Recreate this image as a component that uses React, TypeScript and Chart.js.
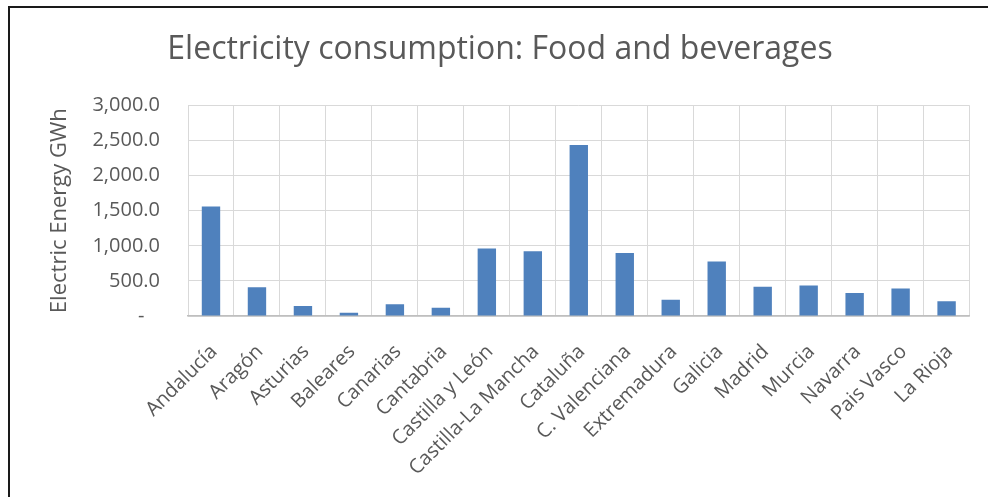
import React, { useEffect, useRef } from "react";
import { Chart, registerables } from "chart.js";

Chart.register(...registerables);

// Regions (categories) and consumption in GWh
const regions: string[] = [
  "Andalucía",
  "Aragón",
  "Asturias",
  "Baleares",
  "Canarias",
  "Cantabria",
  "Castilla y León",
  "Castilla-La Mancha",
  "Cataluña",
  "C. Valenciana",
  "Extremadura",
  "Galicia",
  "Madrid",
  "Murcia",
  "Navarra",
  "Pais Vasco",
  "La Rioja",
];

const consumptionGWh: number[] = [
  1560, 408, 142, 45, 166, 118, 963, 924, 2436, 896, 232, 777, 417, 436, 327, 393, 209,
];

const yTicks: number[] = [0, 500, 1000, 1500, 2000, 2500, 3000];

const chartTitle = "Electricity consumption: Food and beverages";
const yAxisTitle = "Electric Energy GWh";

const FONT = "'Open Sans', 'Noto Sans', sans-serif";
const TEXT = "#595959";
const GRID = "#d9d9d9";
const BAR = "#4f81bd";

const W = 988;
const H = 497;
const PAD_LEFT = 27;

function formatTick(v: number): string {
  if (v === 0) return "-   ";
  return v.toLocaleString("en-US", { minimumFractionDigits: 1, maximumFractionDigits: 1 });
}

export default function App() {
  const canvasRef = useRef<HTMLCanvasElement | null>(null);

  useEffect(() => {
    const canvas = canvasRef.current;
    if (!canvas) return;
    const chart = new Chart(canvas, {
      type: "bar",
      data: {
        labels: regions,
        datasets: [
          {
            data: consumptionGWh,
            backgroundColor: BAR,
            borderWidth: 0,
            barPercentage: 0.4,
            categoryPercentage: 1,
          },
        ],
      },
      options: {
        animation: false,
        responsive: false,
        maintainAspectRatio: false,
        layout: { padding: { left: PAD_LEFT, right: 15, top: 0, bottom: 0 } },
        plugins: {
          legend: { display: false },
          tooltip: { enabled: false },
          title: {
            display: true,
            text: chartTitle,
            color: TEXT,
            font: { family: FONT, size: 32, weight: "normal", lineHeight: 1.2 },
            padding: { top: 31, bottom: 36 },
          },
        },
        scales: {
          x: {
            grid: { color: GRID, lineWidth: 1, drawTicks: false, offset: true },
            border: { color: "#bfbfbf", width: 1.5 },
            ticks: {
              color: TEXT,
              font: { family: FONT, size: 20 },
              minRotation: 45,
              maxRotation: 45,
              autoSkip: false,
              padding: 24,
              labelOffset: 3,
            },
            afterFit: (scale: any) => {
              scale.height = H - 316;
            },
          },
          y: {
            min: 0,
            max: 3000,
            afterBuildTicks: (scale: any) => {
              scale.ticks = yTicks.map((v) => ({ value: v }));
            },
            grid: { color: GRID, lineWidth: 1, drawTicks: false },
            border: { display: false },
            ticks: {
              color: TEXT,
              font: { family: FONT, size: 20 },
              padding: 28,
              callback: (v: any) => formatTick(Number(v)),
            },
            title: {
              display: true,
              text: yAxisTitle,
              color: TEXT,
              font: { family: FONT, size: 22, lineHeight: 1.2 },
              padding: { top: 47 - PAD_LEFT, bottom: 0 },
            },
            afterFit: (scale: any) => {
              scale.width = 188 - PAD_LEFT;
            },
          },
        },
      },
    });
    return () => chart.destroy();
  }, []);

  return (
    <div
      style={{
        position: "absolute",
        left: 0,
        top: 0,
        width: W,
        height: H,
        overflow: "hidden",
        background: "#fff",
      }}
    >
      <canvas ref={canvasRef} width={W} height={H} style={{ position: "absolute", left: 0, top: 0 }} />
      <div
        style={{
          position: "absolute",
          left: 8,
          top: 6,
          width: 2000,
          height: 2000,
          borderLeft: "2px solid #1a1a1a",
          borderTop: "2px solid #1a1a1a",
          pointerEvents: "none",
        }}
      />
    </div>
  );
}
